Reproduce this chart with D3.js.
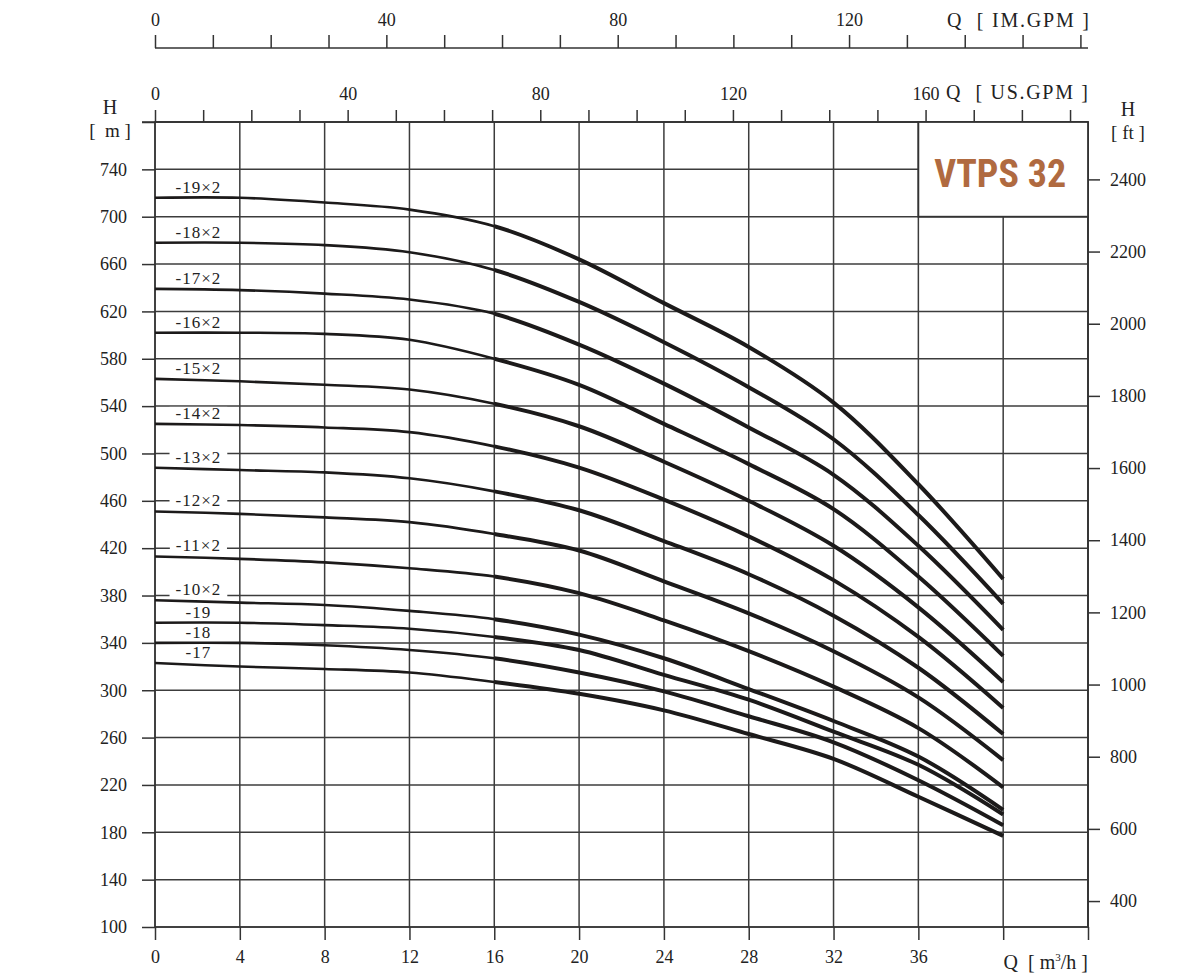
<!DOCTYPE html>
<html>
<head>
<meta charset="utf-8">
<script src="https://cdn.jsdelivr.net/npm/d3@7"></script>
<style>
  body { margin: 0; background: #fff; }
  svg text { font-family: "Liberation Serif", "DejaVu Serif", serif; fill: #222; }
  .grid line { stroke: #3c3c3c; stroke-width: 1.5; }
  .axis path, .axis line { stroke: #333; stroke-width: 1.5; }
  .axis text { font-size: 18px; }
</style>
</head>
<body>
<div id="chart"></div>
<script>
// flow points (m3/h) where the curves were read
const flow = [0, 4, 8, 12, 16, 20, 24, 28, 32, 36, 40];

// head values (m) for each model
const models = ["-19×2", "-18×2", "-17×2", "-16×2", "-15×2", "-14×2", "-13×2", "-12×2", "-11×2", "-10×2", "-19", "-18", "-17"];
const heads = [
  [716, 716, 712, 706, 692, 664, 627, 590, 543, 474, 394],
  [678, 678, 676, 670, 655, 628, 594, 556, 512, 448, 373],
  [639, 638, 635, 630, 618, 592, 559, 522, 482, 422, 351],
  [602, 602, 601, 596, 580, 558, 525, 491, 453, 396, 329],
  [563, 561, 558, 554, 542, 523, 493, 460, 422, 370, 307],
  [525, 524, 522, 518, 506, 488, 461, 430, 393, 345, 285],
  [488, 486, 484, 479, 468, 452, 426, 398, 363, 319, 263],
  [451, 449, 446, 442, 432, 418, 392, 365, 333, 294, 241],
  [413, 411, 408, 403, 396, 382, 359, 333, 303, 268, 218],
  [376, 374, 372, 367, 360, 347, 327, 301, 274, 244, 199],
  [357, 357, 355, 352, 345, 334, 313, 292, 265, 237, 195],
  [340, 340, 338, 334, 327, 315, 299, 278, 256, 224, 186],
  [323, 320, 318, 315, 307, 297, 283, 263, 242, 210, 177]
];

const qTicks = [0, 4, 8, 12, 16, 20, 24, 28, 32, 36];
const hTicks = [100, 140, 180, 220, 260, 300, 340, 380, 420, 460, 500, 540, 580, 620, 660, 700, 740];
const ftTicks = [400, 600, 800, 1000, 1200, 1400, 1600, 1800, 2000, 2200, 2400];
const usTicks = [0, 40, 80, 120, 160];
const imTicks = [0, 40, 80, 120];
const title = "VTPS 32";

const M3H_TO_USGPM = 4.4029;
const M3H_TO_IMGPM = 3.6662;
const FT_TO_M = 0.3048;

const width = 1199, height = 975;
const pLeft = 155, pRight = 1088, pTop = 122, pBottom = 927;

const svg = d3.select("#chart").append("svg")
  .attr("width", width)
  .attr("height", height);

const x = d3.scaleLinear().domain([0, 44]).range([pLeft, pRight]);
const y = d3.scaleLinear().domain([100, 780]).range([pBottom, pTop]);
const xUS = d3.scaleLinear().domain([0, 44 * M3H_TO_USGPM]).range([pLeft, pRight]);
const xIM = d3.scaleLinear().domain([0, 44 * M3H_TO_IMGPM]).range([pLeft, pRight]);
const yFt = d3.scaleLinear().domain([100 / FT_TO_M, 780 / FT_TO_M]).range([pBottom, pTop]);

// grid
const grid = svg.append("g").attr("class", "grid");
grid.selectAll(".v").data(d3.range(0, 45, 4)).join("line")
  .attr("x1", d => x(d)).attr("x2", d => x(d))
  .attr("y1", pTop).attr("y2", pBottom);
grid.selectAll(".h").data(d3.range(100, 781, 40)).join("line")
  .attr("x1", pLeft).attr("x2", pRight)
  .attr("y1", d => y(d)).attr("y2", d => y(d));

// bottom axis
svg.append("g").attr("class", "axis")
  .attr("transform", `translate(0,${pBottom})`)
  .call(d3.axisBottom(x).tickValues(qTicks.concat([40, 44])).tickFormat(d => d <= 36 ? d : "").tickSize(13).tickPadding(10))
  .call(g => g.select(".domain").remove());
svg.append("text").attr("x", pRight).attr("y", 969).attr("text-anchor", "end")
  .style("font-size", "20px").attr("xml:space", "preserve")
  .html('Q  [ m<tspan dy="-8" style="font-size:11px">3</tspan><tspan dy="8">/h ]</tspan>');

// left axis
svg.append("g").attr("class", "axis")
  .attr("transform", `translate(${pLeft},0)`)
  .call(d3.axisLeft(y).tickValues(hTicks.concat([780])).tickFormat(d => d <= 740 ? d : "").tickSize(13).tickPadding(15))
  .call(g => g.select(".domain").remove());
svg.append("text").attr("x", 110).attr("y", 114).attr("text-anchor", "middle").style("font-size", "20px").text("H");
svg.append("text").attr("x", 110).attr("y", 137).attr("text-anchor", "middle").style("font-size", "19px")
  .attr("xml:space", "preserve").text("[  m ]");

// right axis (ft)
svg.append("g").attr("class", "axis")
  .attr("transform", `translate(${pRight},0)`)
  .call(d3.axisRight(yFt).tickValues(ftTicks).tickFormat(d3.format("d")).tickSize(12).tickPadding(10))
  .call(g => g.select(".domain").attr("d", `M0,${pTop}V${pBottom}`));
svg.append("text").attr("x", 1128).attr("y", 116).attr("text-anchor", "middle").style("font-size", "20px").text("H");
svg.append("text").attr("x", 1128).attr("y", 139).attr("text-anchor", "middle").style("font-size", "19px")
  .attr("xml:space", "preserve").text("[ ft ]");

// US GPM axis on the plot top
svg.append("g").attr("class", "axis")
  .attr("transform", `translate(0,${pTop})`)
  .call(d3.axisTop(xUS).tickValues(d3.range(0, 191, 10)).tickFormat(d => usTicks.includes(d) ? d : "").tickSize(12).tickPadding(10))
  .call(g => g.select(".domain").attr("d", `M${pLeft - 13},0H${pRight}`));
svg.append("text").attr("x", 946).attr("y", 99).style("font-size", "20px")
  .attr("textLength", 142).attr("lengthAdjust", "spacing")
  .attr("xml:space", "preserve").text("Q  [ US.GPM ]");

// IM GPM axis
svg.append("g").attr("class", "axis")
  .attr("transform", "translate(0,48)")
  .call(d3.axisTop(xIM).tickValues(d3.range(0, 161, 10)).tickFormat(d => imTicks.includes(d) ? d : "").tickSize(13).tickPadding(9))
  .call(g => g.select(".domain").attr("d", `M${pLeft},0H${x(44)}`));
svg.append("text").attr("x", 947).attr("y", 27).style("font-size", "20px")
  .attr("textLength", 142).attr("lengthAdjust", "spacing")
  .attr("xml:space", "preserve").text("Q  [ IM.GPM ]");

// plot frame
svg.append("rect").attr("x", pLeft).attr("y", pTop).attr("width", pRight - pLeft).attr("height", pBottom - pTop)
  .attr("fill", "none").attr("stroke", "#333").attr("stroke-width", 1.5);

// clip paths: thin part up to 16 m3/h, thick part after
const defs = svg.append("defs");
defs.append("clipPath").attr("id", "clipThin").append("rect")
  .attr("x", pLeft).attr("y", pTop).attr("width", x(16) - pLeft).attr("height", pBottom - pTop);
defs.append("clipPath").attr("id", "clipThick").append("rect")
  .attr("x", x(16)).attr("y", pTop).attr("width", pRight - x(16)).attr("height", pBottom - pTop);

const line = d3.line()
  .x((d, i) => x(flow[i]))
  .y(d => y(d))
  .curve(d3.curveCatmullRom.alpha(0.5));

const curves = svg.append("g");
curves.selectAll(".thin").data(heads).join("path")
  .attr("d", line).attr("fill", "none").attr("stroke", "#1c1a1a")
  .attr("stroke-width", 2.6).attr("clip-path", "url(#clipThin)");
curves.selectAll(".thick").data(heads).join("path")
  .attr("d", line).attr("fill", "none").attr("stroke", "#1c1a1a")
  .attr("stroke-width", 4).attr("clip-path", "url(#clipThick)");

// curve labels with white backing
const labels = svg.append("g");
models.forEach((name, i) => {
  const ly = y(heads[i][0]) - 5;
  const t = labels.append("text")
    .attr("x", x(2) + 1).attr("y", ly)
    .attr("text-anchor", "middle")
    .style("font-size", "17px")
    .style("letter-spacing", "1px")
    .text(name);
  const b = t.node().getBBox();
  labels.insert("rect", "text")
    .attr("x", b.x - 6).attr("y", b.y + 3)
    .attr("width", b.width + 12).attr("height", b.height - 4)
    .attr("fill", "#fff");
});

// title box
svg.append("rect")
  .attr("x", x(36)).attr("y", y(780))
  .attr("width", x(44) - x(36)).attr("height", y(700) - y(780))
  .attr("fill", "#fff").attr("stroke", "#333").attr("stroke-width", 1.8);
svg.append("text")
  .attr("x", (x(36) + x(44)) / 2 - 3).attr("y", 187)
  .attr("text-anchor", "middle")
  .style("font-family", "'Liberation Sans Narrow', 'Roboto', sans-serif")
  .style("font-stretch", "condensed")
  .style("font-weight", "bold")
  .style("font-size", "38px")
  .style("fill", "#b06a40")
  .text(title);
</script>
</body>
</html>
